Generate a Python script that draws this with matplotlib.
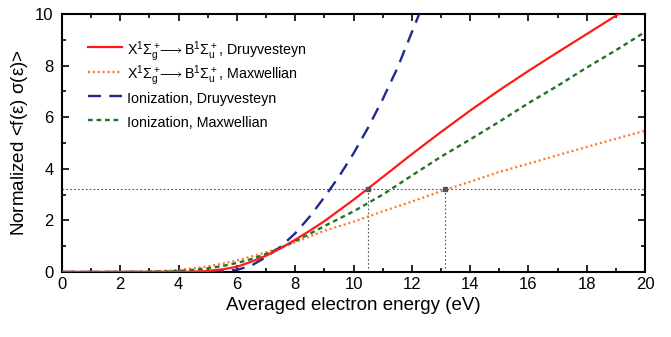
import numpy as np
import matplotlib
matplotlib.use('Agg')
import matplotlib.pyplot as plt
from matplotlib.ticker import MultipleLocator

plt.rcParams['font.family'] = ['Liberation Sans', 'DejaVu Sans']
plt.rcParams['mathtext.fontset'] = 'custom'
plt.rcParams['mathtext.rm'] = 'Liberation Sans'
plt.rcParams['mathtext.it'] = 'Liberation Sans'

# energies (eV)
x_main = [0, 1, 2, 3, 3.5, 4, 4.5, 5, 5.5, 6, 6.5, 7, 7.5, 8, 8.5, 9,
          10, 11, 12, 13, 14, 15, 16, 17, 18, 19, 20]
# X -> B, Druyvesteyn
xb_druy = [0, 0, 0, 0, 0, 0, 0.01, 0.04, 0.1, 0.2, 0.4, 0.63, 0.92, 1.25, 1.6, 1.97,
           2.8, 3.68, 4.57, 5.43, 6.26, 7.05, 7.8, 8.52, 9.23, 9.94, 10.6]
# X -> B, Maxwellian
xb_maxw = [0, 0, 0, 0.01, 0.04, 0.08, 0.14, 0.22, 0.32, 0.45, 0.6, 0.76, 0.94, 1.15, 1.38, 1.6,
           1.95, 2.35, 2.73, 3.13, 3.5, 3.88, 4.2, 4.53, 4.85, 5.17, 5.48]
# Ionization, Maxwellian
ion_maxw = [0, 0, 0, 0.01, 0.02, 0.04, 0.08, 0.14, 0.23, 0.35, 0.5, 0.7, 0.93, 1.2, 1.48, 1.78,
            2.35, 3.0, 3.74, 4.47, 5.14, 5.83, 6.55, 7.22, 7.93, 8.6, 9.31]
# Ionization, Druyvesteyn (leaves the plot near 12 eV)
x_ion_druy = [0, 1, 2, 3, 4, 5, 5.5, 6, 6.5, 7, 7.5, 8, 8.5, 9, 9.5, 10, 10.5, 11, 11.5, 12, 12.5]
ion_druy = [0, 0, 0, 0, 0, 0, 0.03, 0.08, 0.25, 0.58, 0.98, 1.5, 2.15, 2.9, 3.7, 4.6, 5.6,
            6.7, 7.9, 9.3, 10.7]

# guide lines
level = 3.2
cross_x = [10.5, 13.15]

fig = plt.figure(figsize=(6.71, 3.37), dpi=100)
ax = fig.add_axes([0.0924, 0.193, 0.869, 0.765])

ax.plot([0, 20], [level, level], color='#555555', lw=0.8, ls=(0, (1.5, 2)), zorder=1)
for cx in cross_x:
    ax.plot([cx, cx], [0, level], color='#555555', lw=0.8, ls=(0, (1.5, 2)), zorder=1)
ax.plot(cross_x, [level, level], 's', color='#555555', ms=3, zorder=5)

lab1 = r'X$^1\Sigma_g^+\!\!\longrightarrow$B$^1\Sigma_u^+$, Druyvesteyn'
lab2 = r'X$^1\Sigma_g^+\!\!\longrightarrow$B$^1\Sigma_u^+$, Maxwellian'
l1, = ax.plot(x_main, xb_druy, color='#ff1a1a', lw=1.6, label=lab1, zorder=4)
l2, = ax.plot(x_main, xb_maxw, color='#ff7722', lw=1.6, ls=(0, (0.9, 1.3)), label=lab2, zorder=3)
l3, = ax.plot(x_ion_druy, ion_druy, color='#1f2a8c', lw=1.7, ls=(0, (5.5, 3.5)),
              label='Ionization, Druyvesteyn', zorder=3)
l4, = ax.plot(x_main, ion_maxw, color='#22722a', lw=1.7, ls=(0, (2, 1.6)),
              label='Ionization, Maxwellian', zorder=3)

ax.set_xlim(0, 20)
ax.set_ylim(0, 10)
ax.xaxis.set_major_locator(MultipleLocator(2))
ax.xaxis.set_minor_locator(MultipleLocator(1))
ax.yaxis.set_major_locator(MultipleLocator(2))
ax.yaxis.set_minor_locator(MultipleLocator(1))
ax.tick_params(which='both', direction='in', top=True, right=True, width=1.2, labelsize=12)
ax.tick_params(which='major', length=5)
ax.tick_params(which='minor', length=3)
ax.tick_params(axis='y', pad=6)
for s in ax.spines.values():
    s.set_linewidth(1.5)

ax.set_xlabel('Averaged electron energy (eV)', fontsize=13.5)
ax.set_ylabel(r'Normalized <f($\epsilon$) $\sigma$($\epsilon$)>', fontsize=13.5)

# two legends so that the mathtext rows and the plain rows get the same spacing
leg_kw = dict(loc='upper left', frameon=False, fontsize=10.3, handlelength=2.4,
              handleheight=1.75, handletextpad=0.35, borderaxespad=0, borderpad=0.4)
leg1 = ax.legend(handles=[l1, l2], bbox_to_anchor=(0.035, 0.925), labelspacing=0.0, **leg_kw)
ax.add_artist(leg1)
ax.legend(handles=[l3, l4], bbox_to_anchor=(0.035, 0.734), labelspacing=0.3, **leg_kw)

fig.savefig('out.png', dpi=100)
